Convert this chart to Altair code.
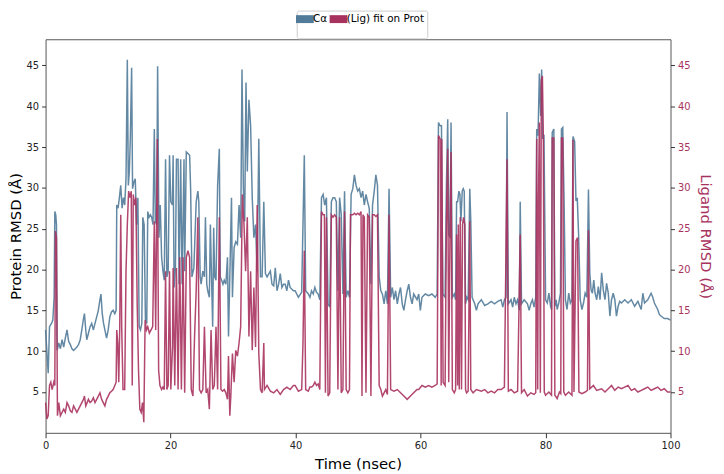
import altair as alt
import pandas as pd

# ---- data ----
prot_time = [0, 0.42, 0.63, 0.95, 1.16, 1.37, 1.48, 1.63, 1.74, 1.85, 2.11, 2.37, 2.64, 2.9, 3.16, 3.43, 3.69, 3.96,
             4.22, 4.48, 4.75, 5.01, 5.27, 5.54, 5.8, 6.07, 6.22, 6.43, 6.59, 6.86, 7.12, 7.38, 7.65, 7.91, 8.18, 8.44,
             8.7, 8.86, 9.07, 9.28, 9.49, 9.76, 10.02, 10.28, 10.55, 10.81, 11.08, 11.29, 11.39, 11.6, 11.81, 12.03,
             12.24, 12.45, 12.66, 12.87, 13.08, 13.24, 13.4, 13.56, 13.77, 13.92, 14.13, 14.35, 14.56, 14.77, 14.98,
             15.19, 15.4, 15.56, 15.77, 15.98, 16.19, 16.35, 16.56, 16.77, 16.98, 17.19, 17.4, 17.56, 17.77, 17.93,
             18.14, 18.35, 18.57, 18.78, 18.99, 19.2, 19.41, 19.62, 19.83, 20.04, 20.3, 20.41, 20.57, 20.78, 20.94,
             21.2, 21.36, 21.62, 21.84, 22.15, 22.26, 22.52, 22.78, 23.05, 23.21, 23.42, 23.73, 24.1, 24.37, 24.52,
             24.74, 24.89, 25.16, 25.42, 25.58, 25.79, 25.95, 26.21, 26.37, 26.58, 26.74, 26.9, 27.06, 27.27, 27.53,
             27.8, 27.95, 28.17, 28.38, 28.59, 28.85, 29.11, 29.27, 29.48, 29.75, 29.9, 30.17, 30.43, 30.7, 30.96,
             31.22, 31.43, 31.65, 31.86, 32.07, 32.28, 32.54, 32.81, 33.07, 33.33, 33.6, 33.86, 34.12, 34.39, 34.65,
             34.92, 35.18, 35.44, 35.97, 36.23, 36.5, 36.76, 37.03, 37.29, 37.55, 37.82, 38.08, 38.34, 38.61, 38.87,
             39.13, 39.66, 39.93, 40.45, 40.98, 41.25, 41.4, 41.62, 42.04, 42.3, 42.56, 42.83, 43.09, 43.36, 43.62,
             43.88, 44.15, 44.41, 44.67, 44.94, 45.2, 45.47, 45.73, 45.99, 46.26, 46.52, 46.78, 47.05, 47.31, 47.58,
             47.84, 48.1, 48.37, 48.63, 48.89, 49.16, 49.42, 49.68, 49.95, 50.21, 50.48, 50.74, 51.0, 51.27, 51.53,
             51.79, 52.06, 52.32, 52.59, 52.85, 53.11, 53.38, 53.64, 53.9, 54.17, 54.43, 54.7, 54.96, 55.22, 55.49,
             55.75, 56.01, 56.28, 56.54, 56.8, 57.07, 57.33, 57.6, 57.86, 58.12, 58.39, 58.65, 58.91, 59.44, 59.71,
             59.97, 60.23, 60.76, 61.29, 61.82, 62.34, 62.66, 62.87, 63.14, 63.35, 63.56, 63.93, 64.14, 64.35, 64.51,
             64.72, 64.88, 65.09, 65.4, 65.61, 65.77, 65.93, 66.14, 66.3, 66.46, 66.67, 66.83, 66.99, 67.2, 67.41,
             67.62, 67.88, 68.04, 68.25, 68.67, 68.94, 69.2, 69.73, 70.26, 70.78, 71.31, 71.84, 72.37, 72.89, 73.16,
             73.42, 73.68, 73.84, 74.05, 74.48, 74.74, 75.0, 75.27, 75.53, 75.8, 75.95, 76.16, 76.59, 77.11, 77.38,
             77.64, 77.9, 78.17, 78.43, 78.59, 78.8, 79.01, 79.22, 79.38, 79.54, 79.75, 80.01, 80.28, 80.54, 80.81,
             80.96, 81.07, 81.33, 81.49, 81.7, 81.86, 82.12, 82.39, 82.55, 82.76, 82.97, 83.18, 83.44, 83.71, 83.97,
             84.23, 84.39, 84.66, 84.87, 85.08, 85.29, 85.55, 85.82, 86.08, 86.34, 86.61, 86.87, 87.08, 87.29, 87.5,
             87.72, 87.93, 88.19, 88.45, 88.72, 88.98, 89.24, 89.51, 89.77, 90.04, 90.3, 90.56, 90.83, 91.09, 91.35,
             91.62, 91.88, 92.15, 92.67, 93.2, 93.73, 94.26, 94.78, 95.31, 95.57, 95.84, 96.36, 96.89, 97.16, 97.42,
             97.68, 97.95, 98.21, 98.47, 99.0, 99.53, 100.0]
prot_rmsd = [12.6, 7.3, 13.0, 13.4, 13.8, 16.6, 27.1, 26.7, 25.5, 10.1, 11.0, 10.3, 11.4, 10.5, 11.6, 12.6, 11.2, 10.8,
             10.3, 10.1, 10.3, 10.5, 10.8, 11.4, 12.6, 14.0, 14.6, 12.6, 11.4, 12.2, 13.0, 13.4, 12.6, 13.4, 14.2, 15.0,
             16.3, 17.0, 14.6, 13.4, 12.6, 11.6, 12.6, 14.2, 14.8, 15.0, 14.6, 15.0, 27.9, 27.5, 28.8, 30.3,
             27.5, 28.8, 27.9, 31.1, 45.7, 30.3, 32.0, 36.0, 44.7, 29.9, 30.7, 31.1, 25.5, 28.8, 13.0,
             12.6, 13.4, 26.4, 25.5, 13.8, 13.4, 27.1, 26.4, 26.7, 26.4, 25.5, 37.2, 25.9, 25.5, 44.9,
             23.9, 27.9, 21.5, 19.8, 18.7, 33.5, 19.1, 19.8, 34.0, 28.3, 27.9, 34.0, 17.8, 20.2, 33.5,
             33.5, 18.2, 33.5, 18.2, 33.5, 19.8, 34.4, 34.2, 34.0, 29.9, 19.1, 20.2, 28.3, 29.6, 28.3,
             19.1, 18.2, 19.8, 19.1, 26.4, 18.2, 17.4, 16.6, 25.5, 18.2, 13.0, 25.1, 19.1, 18.7, 30.3,
             34.8, 19.1, 18.7, 18.2, 18.7, 18.2, 21.5, 11.8, 19.1, 28.8, 16.6, 22.7, 23.4, 23.1, 27.9,
             23.9, 44.5, 29.9, 25.9, 42.9, 32.0, 40.8, 37.6, 28.8, 23.9, 25.5, 19.8, 36.0, 19.1, 19.1,
             28.3, 19.5, 19.1, 19.8, 18.2, 18.0, 20.2, 17.4, 18.2, 19.5, 17.8, 18.2, 18.2, 17.4, 18.7,
             17.8, 17.4, 17.4, 16.6, 17.2, 27.9, 34.0, 17.4, 17.0, 16.6, 17.4, 17.0, 17.8, 17.2, 17.0,
             16.3, 28.8, 29.2, 27.9, 28.8, 15.8, 15.4, 28.3, 28.8, 28.8, 28.3, 17.4, 28.8, 26.7, 17.0,
             29.6, 16.6, 17.4, 16.6, 29.2, 29.9, 31.6, 30.3, 29.6, 29.9, 28.8, 29.6, 27.9, 29.2, 28.3,
             27.5, 18.2, 27.9, 29.6, 31.6, 30.3, 19.1, 17.4, 17.0, 15.8, 17.4, 15.8, 29.9, 16.6, 17.8,
             16.3, 17.4, 15.8, 17.0, 17.8, 15.8, 15.0, 16.3, 17.4, 18.2, 16.6, 15.8, 17.0, 16.3, 17.0,
             15.0, 16.6, 17.0, 16.8, 17.0, 16.6, 17.0, 38.0, 37.6, 37.6, 17.0, 16.6, 30.3, 38.4, 24.3,
             23.9, 38.0, 16.6, 17.0, 16.3, 28.3, 28.3, 29.6, 29.2, 25.9, 29.6, 29.9, 29.6, 15.8, 16.6,
             16.3, 29.9, 25.9, 16.6, 15.8, 15.0, 15.8, 16.3, 15.6, 15.8, 16.1, 15.8, 16.1, 16.3, 15.4,
             16.3, 16.6, 39.3, 15.8, 16.3, 15.4, 16.6, 15.8, 16.3, 15.0, 28.3, 15.8, 16.3, 15.8, 15.0,
             15.8, 16.3, 15.4, 16.6, 37.2, 36.4, 44.0, 38.8, 44.5, 36.0, 36.5, 16.3, 15.9, 17.1, 15.5,
             15.1, 36.8, 37.2, 15.5, 16.3, 15.1, 15.9, 17.1, 37.2, 37.4, 28.4, 16.3, 15.1, 17.1, 15.9,
             16.3, 36.3, 35.7, 28.4, 28.8, 24.3, 16.3, 15.1, 15.9, 17.1, 16.6, 29.8, 19.6, 17.5, 17.1,
             18.7, 17.1, 16.3, 17.9, 16.3, 19.6, 17.5, 16.3, 18.3, 17.1, 14.3, 16.3, 17.1, 16.3, 14.3,
             15.5, 16.1, 15.9, 16.3, 15.9, 16.3, 15.5, 16.1, 15.1, 17.1, 15.9, 16.3, 17.1, 16.6, 15.9,
             15.5, 15.1, 14.5, 14.3, 14.0, 14.0, 13.8]

lig_time = [0, 0.21, 0.42, 0.63, 0.84, 1.05, 1.32, 1.48, 1.58, 1.74, 1.9, 2.11, 2.37, 2.64, 2.9, 3.16, 3.43, 3.69,
            3.96, 4.22, 4.48, 4.75, 5.01, 5.27, 5.54, 5.8, 6.07, 6.22, 6.43, 6.65, 6.86, 7.12, 7.38, 7.65, 7.91, 8.18,
            8.44, 8.7, 8.97, 9.23, 9.49, 9.76, 10.02, 10.28, 10.55, 10.81, 11.08, 11.29, 11.39, 11.55, 11.71, 11.87,
            12.03, 12.18, 12.39, 12.66, 12.87, 13.08, 13.29, 13.5, 13.71, 13.87, 14.03, 14.24, 14.45, 14.66, 14.87,
            15.08, 15.3, 15.51, 15.72, 15.93, 16.14, 16.35, 16.61, 16.88, 17.14, 17.4, 17.62, 17.88, 18.09, 18.3,
            18.57, 18.78, 18.99, 19.2, 19.41, 19.62, 19.83, 20.04, 20.31, 20.41, 20.67, 20.94, 21.2, 21.47, 21.73,
            22.0, 22.26, 22.52, 22.78, 23.05, 23.31, 23.58, 23.84, 24.1, 24.37, 24.63, 24.89, 25.16, 25.42, 25.69,
            25.95, 26.21, 26.48, 26.74, 27.0, 27.27, 27.53, 27.8, 28.06, 28.32, 28.59, 28.85, 29.11, 29.27, 29.48,
            29.64, 29.9, 30.17, 30.43, 30.7, 30.96, 31.22, 31.49, 31.75, 32.01, 32.28, 32.54, 32.81, 33.07, 33.33,
            33.6, 33.86, 34.12, 34.39, 34.65, 34.92, 35.02, 35.44, 35.97, 36.5, 37.03, 37.55, 38.08, 38.61, 39.13,
            39.66, 39.93, 40.45, 40.98, 41.19, 41.4, 41.62, 42.04, 42.3, 42.56, 42.83, 43.09, 43.36, 43.62, 43.88,
            44.15, 44.41, 44.62, 44.78, 44.94, 45.2, 45.47, 45.73, 45.99, 46.26, 46.52, 46.78, 47.05, 47.31, 47.58,
            47.84, 48.1, 48.37, 48.63, 48.79, 49.16, 49.42, 49.68, 49.95, 50.21, 50.48, 50.63, 50.79, 51.0, 51.27,
            51.53, 51.79, 52.06, 52.32, 52.59, 52.85, 53.11, 53.38, 53.64, 53.9, 54.17, 54.43, 54.7, 54.96, 55.22,
            55.75, 56.28, 56.8, 57.33, 57.86, 58.39, 58.91, 59.44, 59.71, 60.23, 60.76, 61.29, 61.82, 62.34, 62.66,
            62.87, 63.14, 63.3, 63.4, 63.61, 63.93, 64.14, 64.35, 64.51, 64.72, 64.88, 65.09, 65.4, 65.61, 65.77,
            65.93, 66.04, 66.2, 66.35, 66.56, 66.72, 66.88, 67.09, 67.2, 67.36, 67.62, 67.88, 68.04, 68.41, 68.94,
            69.73, 70.26, 70.78, 71.31, 71.84, 72.37, 72.89, 73.42, 73.84, 74.05, 74.48, 75.0, 75.53, 75.95, 76.16,
            76.59, 77.11, 77.64, 78.17, 78.43, 78.59, 78.75, 78.85, 79.01, 79.17, 79.33, 79.5, 79.65, 79.8, 80.01,
            80.54, 80.96, 81.07, 81.33, 81.49, 81.86, 82.23, 82.44, 82.55, 82.76, 82.92, 83.18, 83.71, 84.23, 84.39,
            84.55, 84.87, 85.13, 85.34, 85.82, 86.34, 86.71, 86.87, 87.08, 87.66, 88.19, 88.98, 89.51, 90.04, 90.56,
            91.09, 91.62, 92.15, 92.67, 93.2, 93.73, 94.26, 94.78, 95.31, 95.84, 96.36, 96.89, 97.42, 97.95, 98.47,
            99.0, 99.53, 100.0]
lig_rmsd = [3.7, 1.7, 2.1, 5.8, 6.2, 5.3, 6.2, 5.8, 24.7, 23.9, 2.1, 3.7, 2.1, 2.5, 2.9, 2.5, 3.7, 3.3,
            2.7, 2.5, 3.3, 2.9, 2.5, 2.9, 3.3, 3.7, 4.1, 4.5, 3.3, 3.7, 4.1, 3.7, 3.9, 4.3, 3.7, 4.1,
            4.5, 4.9, 4.1, 3.7, 3.3, 4.1, 4.5, 4.9, 5.1, 5.3, 5.8, 6.2, 12.6, 11.0, 6.2, 13.0,
            26.7, 13.0, 5.3, 5.3, 19.8, 25.5, 29.6, 28.8, 29.6, 5.8, 29.2, 27.9, 28.8, 15.8, 7.7,
            2.9, 2.5, 3.7, 1.3, 13.8, 12.6, 13.0, 12.2, 12.6, 13.0, 25.9, 12.6, 36.0, 7.7, 5.8,
            5.3, 5.6, 5.3, 19.8, 5.3, 5.8, 19.8, 5.3, 10.5, 20.2, 5.8, 20.2, 5.3, 21.5, 5.3,
            21.5, 4.9, 21.5, 22.3, 21.5, 5.3, 4.5, 11.8, 17.4, 26.4, 5.3, 4.9, 5.3, 13.0, 4.9,
            5.3, 2.9, 12.6, 5.3, 5.8, 13.0, 5.3, 26.4, 5.3, 5.1, 5.3, 4.9, 4.1, 9.4, 2.1,
            4.5, 9.7, 6.2, 10.1, 9.4, 11.0, 13.0, 29.2, 25.5, 19.8, 26.4, 11.8, 19.8, 10.1, 17.8,
            10.5, 27.9, 9.7, 5.3, 4.9, 11.0, 5.3, 5.8, 5.1, 4.9, 5.3, 4.7, 5.3, 5.6, 5.3,
            5.8, 5.8, 5.1, 5.3, 11.0, 22.3, 5.3, 5.1, 5.6, 5.6, 5.8, 6.2, 5.8, 6.0, 5.3,
            27.1, 26.7, 26.7, 4.9, 26.4, 4.5, 4.9, 26.7, 26.4, 26.7, 26.4, 5.3, 26.4, 4.9, 5.3,
            27.1, 5.3, 4.9, 5.3, 26.7, 26.7, 26.9, 26.7, 26.9, 26.7, 27.1, 4.5, 26.7, 26.4, 4.9,
            26.7, 26.4, 4.5, 26.7, 26.7, 26.5, 26.7, 5.8, 5.3, 4.5, 4.9, 5.3, 4.7, 26.7, 5.3,
            5.1, 5.3, 4.9, 4.5, 4.1, 4.5, 4.9, 5.3, 5.3, 5.8, 5.6, 5.8, 5.6, 5.8, 6.0,
            36.4, 36.0, 5.8, 36.0, 6.2, 5.8, 25.5, 34.8, 6.2, 24.7, 34.4, 5.3, 4.9, 5.3, 24.3,
            5.8, 25.5, 5.3, 26.4, 5.3, 25.5, 26.4, 25.5, 5.3, 4.9, 5.1, 25.9, 5.3, 4.9, 5.3,
            5.1, 5.3, 4.9, 5.1, 4.9, 5.3, 5.3, 5.6, 33.5, 5.1, 5.3, 4.9, 5.1, 24.3, 4.9,
            5.3, 4.5, 4.9, 4.7, 4.9, 36.0, 5.3, 27.1, 38.0, 4.9, 43.2, 43.7, 36.1, 5.0, 4.6,
            5.0, 4.6, 36.1, 36.1, 4.6, 4.2, 5.0, 4.8, 36.1, 36.1, 5.0, 4.6, 5.0, 4.6, 35.9,
            5.0, 23.5, 23.9, 5.0, 4.8, 5.0, 5.2, 24.8, 5.4, 5.8, 5.2, 5.4, 5.0, 5.4, 5.8,
            5.2, 5.6, 5.4, 5.6, 5.8, 5.2, 5.4, 5.0, 5.2, 5.4, 5.6, 5.2, 5.4, 5.6, 5.2,
            5.4, 5.0, 5.0]

series_names = ["C\u03b1", "(Lig) fit on Prot"]
series_colors = ["#527b99", "#a8325e"]
x_ticks = [0, 20, 40, 60, 80, 100]
y_ticks = [5, 10, 15, 20, 25, 30, 35, 40, 45]
x_domain = [0, 100]
y_domain = [0, 48.2]

df = pd.concat([
    pd.DataFrame({"t": prot_time, "v": prot_rmsd, "s": series_names[0]}),
    pd.DataFrame({"t": lig_time, "v": lig_rmsd, "s": series_names[1]}),
], ignore_index=True)

FONT = "DejaVu Sans"
color_scale = alt.Scale(domain=series_names, range=series_colors)
legend_def = alt.Legend(
    title=None, orient="none", legendX=254, legendY=-29, direction="horizontal",
    symbolType="M-9,0H9", symbolSize=4, symbolStrokeWidth=8, symbolOpacity=1,
    labelFont=FONT, labelFontSize=10.5, labelColor="#000000", labelOffset=3,
    columnPadding=-17, rowPadding=0, padding=3, strokeColor="#cccccc", fillColor="#ffffff",
    cornerRadius=2,
)
color_enc = alt.Color("s:N", scale=color_scale, legend=legend_def)

x_enc = alt.X(
    "t:Q", scale=alt.Scale(domain=x_domain, nice=False, zero=False),
    axis=alt.Axis(values=x_ticks, title="Time (nsec)", titleFont=FONT, titleFontSize=15,
                  titleFontWeight="normal", titleColor="#000000", titlePadding=6,
                  labelFont=FONT, labelFontSize=10, labelColor="#222222", labelPadding=3,
                  tickSize=5, tickColor="#333333", domain=False, grid=False, labelFlush=False),
)

prot = alt.Chart(df).transform_filter(alt.datum.s == series_names[0]).mark_line(
    strokeWidth=1.5, opacity=0.9
).encode(
    x=x_enc,
    y=alt.Y("v:Q", scale=alt.Scale(domain=y_domain, nice=False, zero=False),
            axis=alt.Axis(orient="left", values=y_ticks, title="Protein RMSD (\u00c5)",
                          titleFont=FONT, titleFontSize=15, titleFontWeight="normal",
                          titleColor="#000000", titlePadding=3,
                          labelFont=FONT, labelFontSize=10, labelColor="#222222", labelPadding=3,
                          tickSize=4, tickColor="#333333", domain=False, grid=False)),
    color=color_enc,
)

lig = alt.Chart(df).transform_filter(alt.datum.s == series_names[1]).mark_line(
    strokeWidth=1.5, opacity=0.9
).encode(
    x=x_enc,
    y=alt.Y("v:Q", scale=alt.Scale(domain=y_domain, nice=False, zero=False),
            axis=alt.Axis(orient="right", values=y_ticks, title="Ligand RMSD (\u00c5)",
                          titleFont=FONT, titleFontSize=15, titleFontWeight="normal",
                          titleColor=series_colors[1], titlePadding=8,
                          labelFont=FONT, labelFontSize=10, labelColor=series_colors[1], labelPadding=3,
                          tickSize=4, tickColor="#333333", domain=False, grid=False)),
    color=color_enc,
)

chart = alt.layer(prot, lig).resolve_scale(y="independent").properties(
    width=632, height=398,
    autosize=alt.AutoSizeParams(type="none"),
    padding={"left": 38, "top": 29, "right": 46, "bottom": 37},
).configure_view(stroke="#555555", strokeWidth=1)

chart.save("out.html", embed_options={"renderer": "svg", "actions": False})
